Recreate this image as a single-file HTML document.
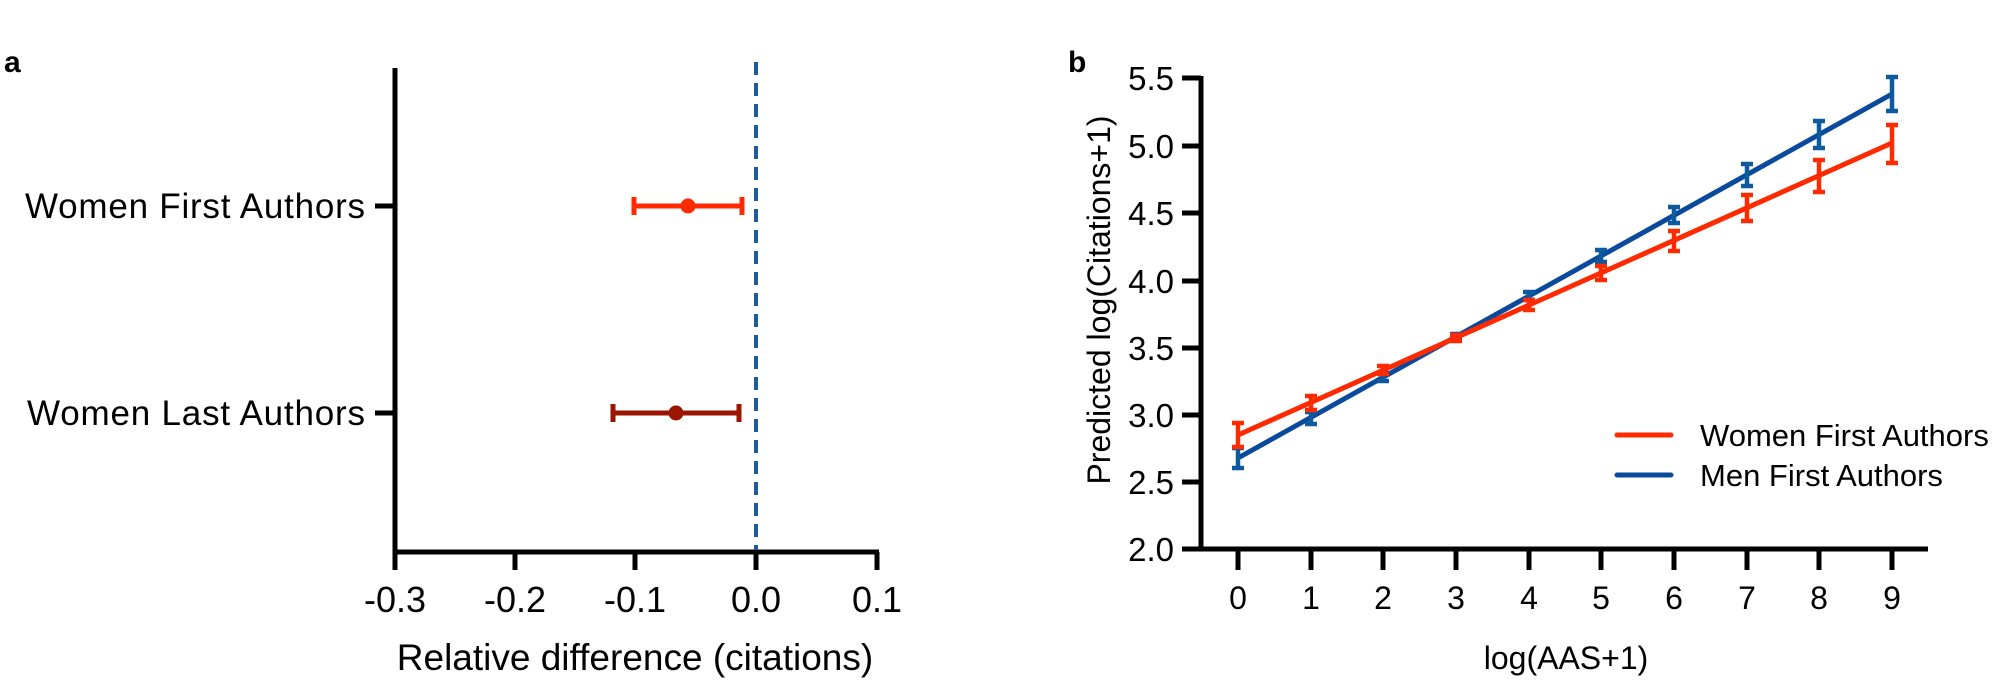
<!DOCTYPE html>
<html><head><meta charset="utf-8"><style>
html,body{margin:0;padding:0;background:#fff;}
svg{display:block;font-family:"Liberation Sans",Arial,sans-serif;}
</style></head><body>
<svg width="2000" height="683" viewBox="0 0 2000 683" xmlns="http://www.w3.org/2000/svg">
<rect width="2000" height="683" fill="#fff"/>
<text x="4" y="72" font-size="30" font-weight="bold">a</text>
<text x="1068" y="72" font-size="30" font-weight="bold">b</text>

<!-- Panel a -->
<g stroke="#000" stroke-width="5" fill="none">
<line x1="395" y1="68" x2="395" y2="554"/>
<line x1="393" y1="552" x2="879" y2="552"/>
<line x1="395" y1="552" x2="395" y2="570"/>
<line x1="515" y1="552" x2="515" y2="570"/>
<line x1="635" y1="552" x2="635" y2="570"/>
<line x1="756" y1="552" x2="756" y2="570"/>
<line x1="877" y1="552" x2="877" y2="570"/>
<line x1="375" y1="206" x2="395" y2="206"/>
<line x1="375" y1="413" x2="395" y2="413"/>
</g>
<line x1="756" y1="62" x2="756" y2="550" stroke="#1a5c9c" stroke-width="4" stroke-dasharray="13,8"/>
<g font-size="35" text-anchor="end">
<text x="365" y="218" textLength="340">Women First Authors</text>
<text x="365" y="425" textLength="338">Women Last Authors</text>
</g>
<g font-size="36" text-anchor="middle">
<text x="395" y="612">-0.3</text>
<text x="515" y="612">-0.2</text>
<text x="635" y="612">-0.1</text>
<text x="756" y="612">0.0</text>
<text x="877" y="612">0.1</text>
</g>
<text x="635" y="670" font-size="37" text-anchor="middle">Relative difference (citations)</text>
<g stroke="#ff2a00" stroke-width="5">
<line x1="634" y1="206" x2="742" y2="206"/>
<line x1="634" y1="197" x2="634" y2="215"/>
<line x1="742" y1="197" x2="742" y2="215"/>
</g>
<circle cx="688" cy="206" r="7.5" fill="#ff2a00"/>
<g stroke="#9b1500" stroke-width="5">
<line x1="613" y1="413" x2="739" y2="413"/>
<line x1="613" y1="404" x2="613" y2="422"/>
<line x1="739" y1="404" x2="739" y2="422"/>
</g>
<circle cx="676" cy="413" r="7.5" fill="#9b1500"/>

<!-- Panel b -->
<g stroke="#000" stroke-width="5" fill="none">
<line x1="1201" y1="76" x2="1201" y2="551"/>
<line x1="1199" y1="549" x2="1928" y2="549"/>
<line x1="1182" y1="78" x2="1201" y2="78"/>
<line x1="1182" y1="146" x2="1201" y2="146"/>
<line x1="1182" y1="213" x2="1201" y2="213"/>
<line x1="1182" y1="281" x2="1201" y2="281"/>
<line x1="1182" y1="348" x2="1201" y2="348"/>
<line x1="1182" y1="415" x2="1201" y2="415"/>
<line x1="1182" y1="482" x2="1201" y2="482"/>
<line x1="1182" y1="549" x2="1201" y2="549"/>
<line x1="1238" y1="549" x2="1238" y2="570"/>
<line x1="1311" y1="549" x2="1311" y2="570"/>
<line x1="1383" y1="549" x2="1383" y2="570"/>
<line x1="1456" y1="549" x2="1456" y2="570"/>
<line x1="1529" y1="549" x2="1529" y2="570"/>
<line x1="1601" y1="549" x2="1601" y2="570"/>
<line x1="1674" y1="549" x2="1674" y2="570"/>
<line x1="1747" y1="549" x2="1747" y2="570"/>
<line x1="1819" y1="549" x2="1819" y2="570"/>
<line x1="1892" y1="549" x2="1892" y2="570"/>
</g>
<g font-size="33" text-anchor="end">
<text x="1174" y="90">5.5</text>
<text x="1174" y="158">5.0</text>
<text x="1174" y="225">4.5</text>
<text x="1174" y="293">4.0</text>
<text x="1174" y="360">3.5</text>
<text x="1174" y="427">3.0</text>
<text x="1174" y="494">2.5</text>
<text x="1174" y="561">2.0</text>
</g>
<g font-size="32" text-anchor="middle">
<text x="1238" y="609">0</text>
<text x="1311" y="609">1</text>
<text x="1383" y="609">2</text>
<text x="1456" y="609">3</text>
<text x="1529" y="609">4</text>
<text x="1601" y="609">5</text>
<text x="1674" y="609">6</text>
<text x="1747" y="609">7</text>
<text x="1819" y="609">8</text>
<text x="1892" y="609">9</text>
</g>
<text x="1566" y="669" font-size="32" text-anchor="middle">log(AAS+1)</text>
<text transform="translate(1110,300) rotate(-90)" font-size="32" text-anchor="middle">Predicted log(Citations+1)</text>

<!-- Men (blue) -->
<polyline points="1238,458 1892,94" stroke="#0a4a9c" stroke-width="5" fill="none"/>
<g stroke="#0d5a9e" stroke-width="4.5" fill="none">
<path d="M1238,448 V468 M1232,448 H1244 M1232,468 H1244"/>
<path d="M1311,412 V424 M1305,412 H1317 M1305,424 H1317"/>
<path d="M1383,373 V381 M1377,373 H1389 M1377,381 H1389"/>
<path d="M1456,334 V340 M1450,334 H1462 M1450,340 H1462"/>
<path d="M1529,292 V300 M1523,292 H1535 M1523,300 H1535"/>
<path d="M1601,250 V262 M1595,250 H1607 M1595,262 H1607"/>
<path d="M1674,207 V223 M1668,207 H1680 M1668,223 H1680"/>
<path d="M1747,164 V186 M1741,164 H1753 M1741,186 H1753"/>
<path d="M1819,121 V148 M1813,121 H1825 M1813,148 H1825"/>
<path d="M1892,77 V111 M1886,77 H1898 M1886,111 H1898"/>
</g>
<!-- Women (red) -->
<polyline points="1238,435 1892,143" stroke="#ff2a00" stroke-width="5" fill="none"/>
<g stroke="#ff2a00" stroke-width="4.5" fill="none">
<path d="M1238,423 V447 M1232,423 H1244 M1232,447 H1244"/>
<path d="M1311,396 V410 M1305,396 H1317 M1305,410 H1317"/>
<path d="M1383,366 V374 M1377,366 H1389 M1377,374 H1389"/>
<path d="M1456,335 V341 M1450,335 H1462 M1450,341 H1462"/>
<path d="M1529,300 V310 M1523,300 H1535 M1523,310 H1535"/>
<path d="M1601,266 V280 M1595,266 H1607 M1595,280 H1607"/>
<path d="M1674,231 V251 M1668,231 H1680 M1668,251 H1680"/>
<path d="M1747,195 V221 M1741,195 H1753 M1741,221 H1753"/>
<path d="M1819,160 V192 M1813,160 H1825 M1813,192 H1825"/>
<path d="M1892,125 V163 M1886,125 H1898 M1886,163 H1898"/>
</g>

<!-- Legend -->
<line x1="1617" y1="435" x2="1671" y2="435" stroke="#ff2a00" stroke-width="5" stroke-linecap="round"/>
<line x1="1617" y1="475" x2="1671" y2="475" stroke="#0a4a9c" stroke-width="5" stroke-linecap="round"/>
<g font-size="31">
<text x="1700" y="446">Women First Authors</text>
<text x="1700" y="486">Men First Authors</text>
</g>
</svg>
</body></html>
